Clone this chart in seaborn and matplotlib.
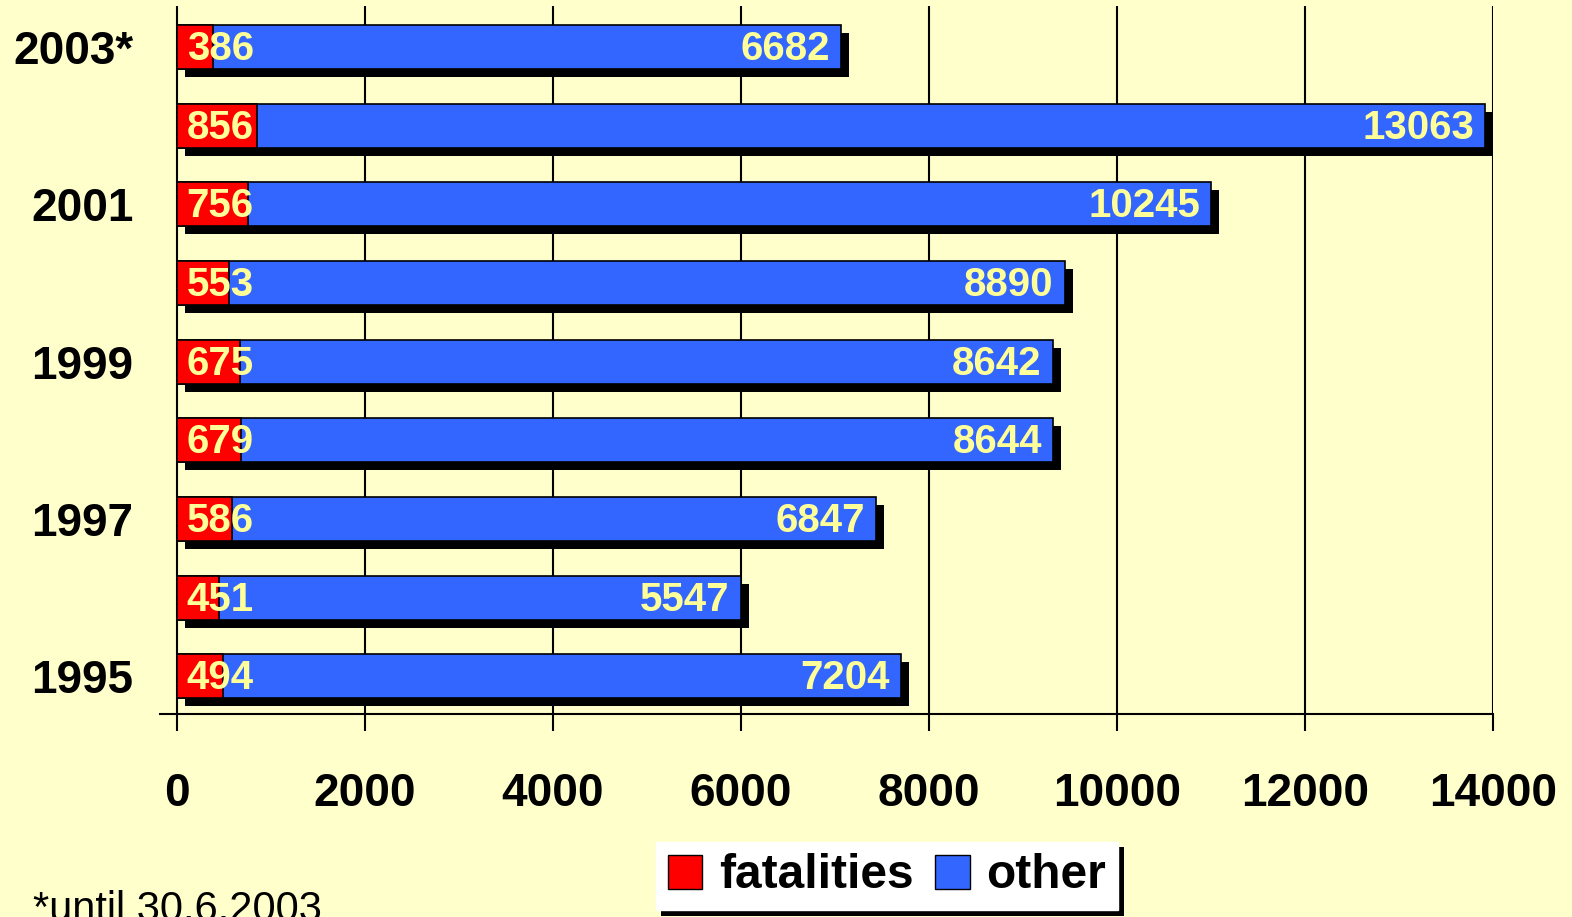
import matplotlib
matplotlib.use("Agg")
import matplotlib.pyplot as plt
import matplotlib.patheffects as pe
from matplotlib.patches import Patch
import seaborn as sns
import pandas as pd

years = ["2003*", "2002", "2001", "2000", "1999", "1998", "1997", "1996", "1995"]
year_labels = ["2003*", "", "2001", "", "1999", "", "1997", "", "1995"]
fatalities = [386, 856, 756, 553, 675, 679, 586, 451, 494]
other = [6682, 13063, 10245, 8890, 8642, 8644, 6847, 5547, 7204]
x_ticks = [0, 2000, 4000, 6000, 8000, 10000, 12000, 14000]

BG = "#FFFFCC"
RED = "#FF0000"
BLUE = "#3366FF"
LABEL = "#FFFF99"

sns.set_theme(style="white")
plt.rcParams["font.family"] = ["Liberation Sans", "DejaVu Sans"]
plt.rcParams["text.color"] = "black"
plt.rcParams["xtick.color"] = "black"
plt.rcParams["ytick.color"] = "black"

df = pd.DataFrame({"year": years, "fatalities": fatalities, "other": other})
df["total"] = df["fatalities"] + df["other"]

fig = plt.figure(figsize=(15.72, 9.17), dpi=100, facecolor=BG)
ax = fig.add_axes([160 / 1572, 1 - 714 / 917, (1493 - 160) / 1572, (714 - 6) / 917])
ax.set_facecolor(BG)

sns.barplot(data=df, y="year", x="total", order=years, orient="h", color=BLUE,
            saturation=1, width=0.56, edgecolor="black", linewidth=1.2, ax=ax, zorder=3)
for p in ax.patches:
    p.set_path_effects([pe.SimplePatchShadow(offset=(5.8, -5.8), shadow_rgbFace="black", alpha=1),
                        pe.Normal()])
sns.barplot(data=df, y="year", x="fatalities", order=years, orient="h", color=RED,
            saturation=1, width=0.56, edgecolor="black", linewidth=1.2, ax=ax, zorder=4)

for i, (f, o) in enumerate(zip(fatalities, other)):
    ax.annotate(str(f), xy=(0, i), xytext=(7, -1.5), textcoords="offset points",
                ha="left", va="center", color=LABEL, fontsize=29, fontweight="bold", zorder=6)
    ax.annotate(str(o), xy=(f + o, i), xytext=(-8, -1.5), textcoords="offset points",
                ha="right", va="center", color=LABEL, fontsize=29, fontweight="bold", zorder=6)

ax.set_xlim(-180, 14000)
ax.set_ylim(8.48, -0.52)
ax.set_xticks(x_ticks)
ax.set_xticklabels([str(t) for t in x_ticks], fontsize=33, fontweight="bold", color="black")
ax.set_yticks(range(len(years)))
ax.set_yticklabels(year_labels, fontsize=33, fontweight="bold", color="black")
ax.set_xlabel("")
ax.set_ylabel("")
ax.tick_params(axis="x", direction="out", length=12.5, width=1.5, color="black", pad=29,
               bottom=True)
ax.tick_params(axis="y", length=0, pad=19)

ax.grid(False)
for t in x_ticks:
    ax.axvline(t, color="black", linewidth=1.5, zorder=1)
for s in ["top", "right", "left"]:
    ax.spines[s].set_visible(False)
ax.spines["bottom"].set_color("black")
ax.spines["bottom"].set_linewidth(1.5)

handles = [Patch(facecolor=RED, edgecolor="black", label="fatalities"),
           Patch(facecolor=BLUE, edgecolor="black", label="other")]
leg = fig.legend(handles=handles, loc="center", bbox_to_anchor=(887 / 1572, 1 - 876 / 917),
                 ncol=2, frameon=True, fancybox=False, framealpha=1,
                 prop={"size": 34.5, "weight": "bold"}, handlelength=0.72, handleheight=0.72,
                 handletextpad=0.35, columnspacing=0.45, borderpad=0.25, borderaxespad=0)
for t in leg.get_texts():
    t.set_color("black")
frame = leg.get_frame()
frame.set_facecolor("white")
frame.set_edgecolor("white")
frame.set_path_effects([pe.SimplePatchShadow(offset=(4, -4), shadow_rgbFace="black", alpha=1),
                        pe.Normal()])

fig.text(33 / 1572, -0.004, "*until 30.6.2003", fontsize=30, ha="left", va="baseline",
         color="black")

fig.savefig("out.png", dpi=100, facecolor=BG)
